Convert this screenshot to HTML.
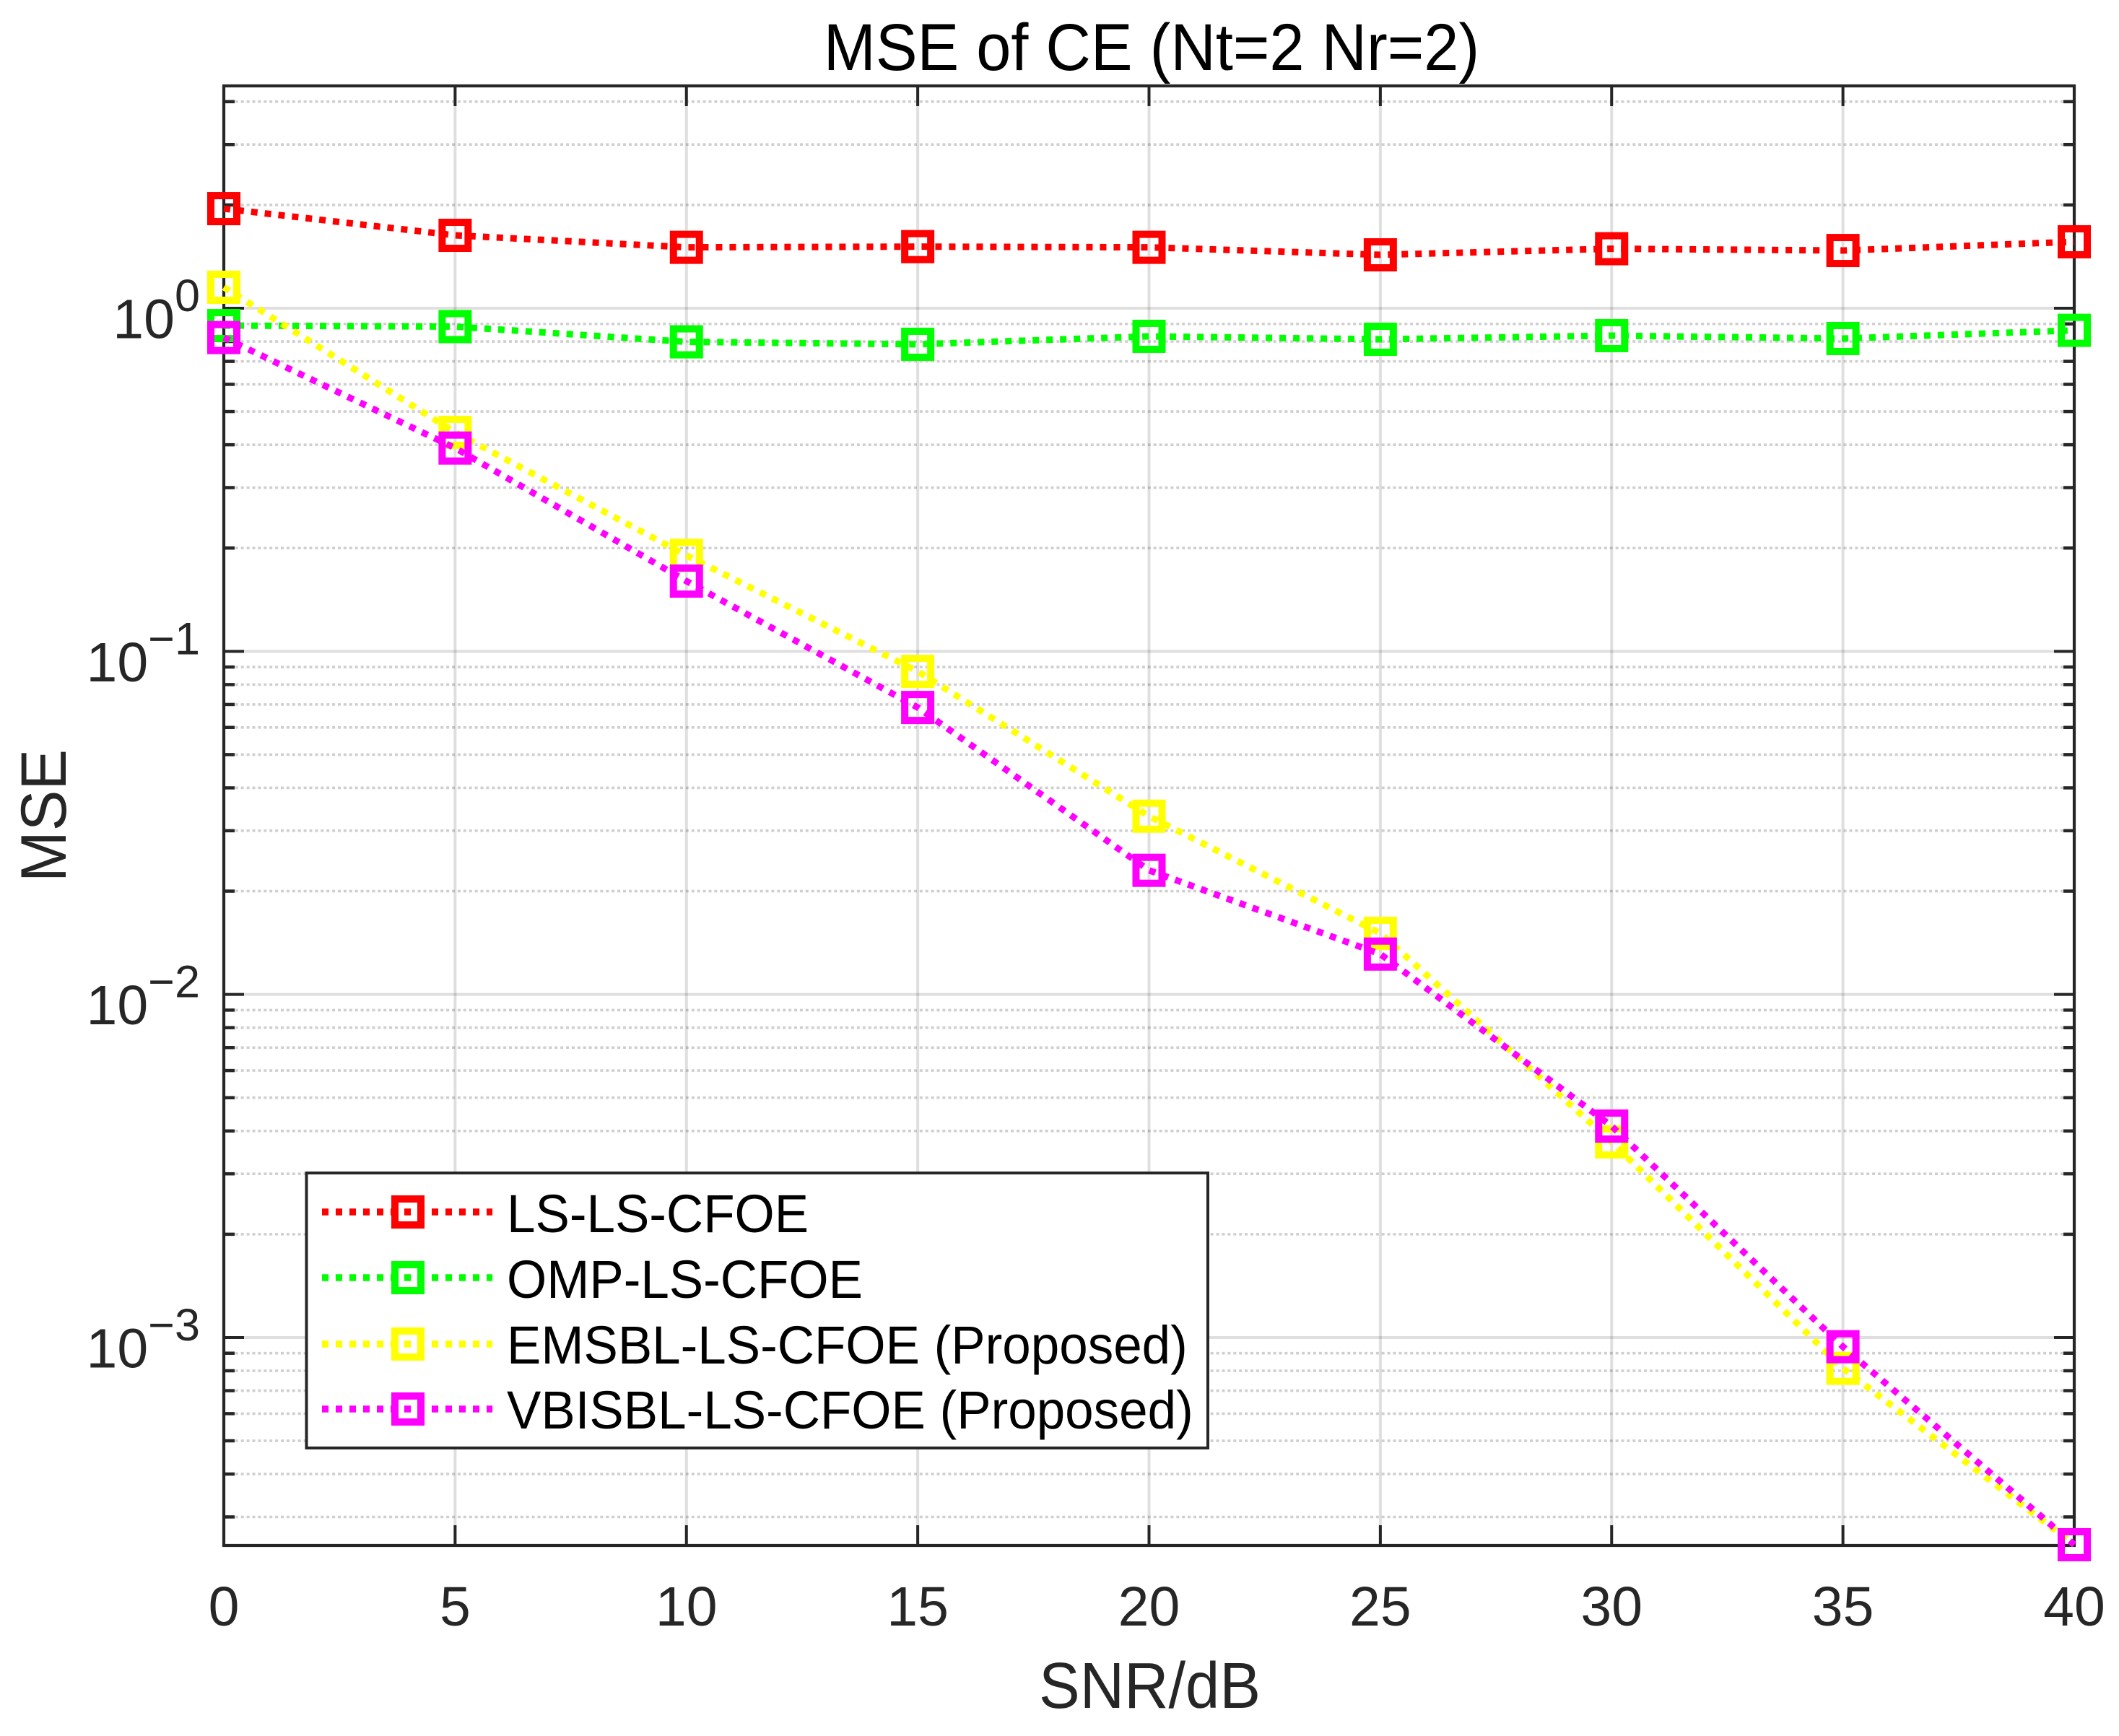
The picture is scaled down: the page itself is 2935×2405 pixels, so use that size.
<!DOCTYPE html>
<html lang="en">
<head>
<meta charset="utf-8">
<title>MSE of CE (Nt=2 Nr=2)</title>
<style>
html,body{margin:0;padding:0;background:#fff;}
svg{display:block;}
text{font-family:"Liberation Sans",Arial,sans-serif;}
</style>
</head>
<body>
<svg id="chart" xmlns="http://www.w3.org/2000/svg" width="2935" height="2405" viewBox="0 0 2935 2405">
  <rect x="0" y="0" width="2935" height="2405" fill="#ffffff"/>
  <rect x="310" y="119" width="2563" height="2022" fill="#ffffff"/>
  <g id="grid"></g>
  <g id="ticks"></g>
  <rect x="310" y="119" width="2563" height="2022" fill="none" stroke="#262626" stroke-width="4.2"/>
  <g id="tick-labels"></g>
  <g id="series"></g>

  <text x="0" y="0" font-size="86.5" text-anchor="middle" fill="#000000" transform="translate(1595 97) scale(1 1.065)">MSE of CE (Nt=2 Nr=2)</text>
  <text x="0" y="0" font-size="85" text-anchor="middle" fill="#262626" transform="translate(1592.5 2366) scale(1 1.06)">SNR/dB</text>
  <text x="0" y="0" font-size="85" text-anchor="middle" fill="#262626" transform="translate(91 1130) rotate(-90) scale(1 1.05)">MSE</text>

  <g>
    <rect x="424.5" y="1625" width="1248.5" height="381" fill="#ffffff" stroke="#262626" stroke-width="4"/>

    <g>
      <line x1="446" y1="1679" x2="682" y2="1679" stroke="#ff0000" stroke-width="9.5" stroke-dasharray="9 10"/>
      <rect x="547" y="1661" width="36" height="36" fill="none" stroke="#ff0000" stroke-width="10"/>
      <text x="0" y="0" font-size="71" fill="#000000" transform="translate(702 1707) scale(1 1.05)">LS-LS-CFOE</text>
    </g>
    <g>
      <line x1="446" y1="1770" x2="682" y2="1770" stroke="#00ff00" stroke-width="9.5" stroke-dasharray="9 10"/>
      <rect x="547" y="1752" width="36" height="36" fill="none" stroke="#00ff00" stroke-width="10"/>
      <text x="0" y="0" font-size="71" fill="#000000" transform="translate(702 1798) scale(1 1.05)">OMP-LS-CFOE</text>
    </g>
    <g>
      <line x1="446" y1="1862" x2="682" y2="1862" stroke="#ffff00" stroke-width="9.5" stroke-dasharray="9 10"/>
      <rect x="547" y="1844" width="36" height="36" fill="none" stroke="#ffff00" stroke-width="10"/>
      <text x="0" y="0" font-size="71" fill="#000000" transform="translate(702 1889) scale(1 1.05)">EMSBL-LS-CFOE (Proposed)</text>
    </g>
    <g>
      <line x1="446" y1="1952" x2="682" y2="1952" stroke="#ff00ff" stroke-width="9.5" stroke-dasharray="9 10"/>
      <rect x="547" y="1934" width="36" height="36" fill="none" stroke="#ff00ff" stroke-width="10"/>
      <text x="0" y="0" font-size="71" fill="#000000" transform="translate(702 1979) scale(1 1.05)">VBISBL-LS-CFOE (Proposed)</text>
    </g>
  </g>
</svg>

<script>
// ---- chart data ----
const snrValues = [0, 5, 10, 15, 20, 25, 30, 35, 40];
const xTickLabels = ['0', '5', '10', '15', '20', '25', '30', '35', '40'];
const yDecadeExponents = [0, -1, -2, -3];
const yDecadeExponentLabels = ['0', '\u22121', '\u22122', '\u22123'];
const yMinorMultipliers = [2, 3, 4, 5, 6, 7, 8, 9];
const lsMse = [1.951, 1.631, 1.505, 1.512, 1.505, 1.431, 1.491, 1.473, 1.562];
const ompMse = [0.890, 0.884, 0.798, 0.785, 0.828, 0.812, 0.832, 0.816, 0.862];
const emsblMse = [1.151, 0.4346, 0.1904, 0.0874, 0.03307, 0.01507, 0.003715, 0.000813, 0.000249];
const vbisblMse = [0.8214, 0.3913, 0.1602, 0.0686, 0.0230, 0.01311, 0.004133, 0.000940, 0.000249];

// ---- axis configuration ----
const NS = 'http://www.w3.org/2000/svg';
const plotLeft = 310, plotRight = 2873, plotTop = 119, plotBottom = 2141;
const xMin = 0, xMax = 40;
const logMin = -3.606, logMax = 0.648;
const inkColor = '#262626';

function xScale(v) {
  return plotLeft + (v - xMin) / (xMax - xMin) * (plotRight - plotLeft);
}
function yScale(v) {
  return plotTop + (logMax - Math.log10(v)) / (logMax - logMin) * (plotBottom - plotTop);
}
function make(tag, attrs, parent) {
  const node = document.createElementNS(NS, tag);
  for (const key in attrs) node.setAttribute(key, attrs[key]);
  parent.appendChild(node);
  return node;
}

const gridGroup = document.getElementById('grid');
const tickGroup = document.getElementById('ticks');
const labelGroup = document.getElementById('tick-labels');
const seriesGroup = document.getElementById('series');

// ---- vertical grid, x ticks, x labels ----
snrValues.forEach(function (snr, i) {
  const x = xScale(snr);
  if (snr > xMin && snr < xMax) {
    const g = make('line', {x1: x, x2: x, y1: plotTop, y2: plotBottom, stroke: inkColor, 'stroke-opacity': 0.15, 'stroke-width': 4}, gridGroup);
    
    
    const tb = make('line', {x1: x, x2: x, y1: plotBottom, y2: plotBottom - 28, stroke: inkColor, 'stroke-width': 4}, tickGroup);
    
    
    const tt = make('line', {x1: x, x2: x, y1: plotTop, y2: plotTop + 28, stroke: inkColor, 'stroke-width': 4}, tickGroup);
    
    
  }
  const label = make('text', {x: x, y: 2252, 'font-size': 77, 'text-anchor': 'middle', fill: inkColor}, labelGroup);
  
  
  label.textContent = xTickLabels[i];
});

// ---- horizontal minor grid + ticks ----
[1, 0, -1, -2, -3, -4].forEach(function (decade) {
  yMinorMultipliers.forEach(function (m) {
    const value = m * Math.pow(10, decade - 1);
    const log = Math.log10(value);
    if (log <= logMin || log >= logMax) return;
    const y = yScale(value);
    const g = make('line', {x1: plotLeft, x2: plotRight, y1: y, y2: y, stroke: inkColor, 'stroke-opacity': 0.22, 'stroke-width': 3.6, 'stroke-dasharray': '4 3.9'}, gridGroup);
    
    
    const tl = make('line', {x1: plotLeft, x2: plotLeft + 15, y1: y, y2: y, stroke: inkColor, 'stroke-width': 4.5}, tickGroup);
    
    
    const tr = make('line', {x1: plotRight, x2: plotRight - 15, y1: y, y2: y, stroke: inkColor, 'stroke-width': 4.5}, tickGroup);
    
    
  });
});

// ---- horizontal major grid, ticks and labels ----
yDecadeExponents.forEach(function (exponent, i) {
  const y = yScale(Math.pow(10, exponent));
  const g = make('line', {x1: plotLeft, x2: plotRight, y1: y, y2: y, stroke: inkColor, 'stroke-opacity': 0.15, 'stroke-width': 4}, gridGroup);
  
  
  const tl = make('line', {x1: plotLeft, x2: plotLeft + 28, y1: y, y2: y, stroke: inkColor, 'stroke-width': 4}, tickGroup);
  
  
  const tr = make('line', {x1: plotRight, x2: plotRight - 28, y1: y, y2: y, stroke: inkColor, 'stroke-width': 4}, tickGroup);
  
  

  const label = make('text', {x: 277, y: y + 41.5, 'font-size': 77, 'text-anchor': 'end', fill: inkColor}, labelGroup);
  
  
  label.appendChild(document.createTextNode('10'));
  const sup = make('tspan', {'font-size': 63, dy: -37.5}, label);
  
  
  sup.textContent = yDecadeExponentLabels[i];
});

// ---- series ----
function drawSeries(values, color, slug) {
  const points = snrValues.map(function (snr, i) {
    return xScale(snr).toFixed(2) + ',' + yScale(values[i]).toFixed(2);
  }).join(' ');
  const group = make('g', {}, seriesGroup);
  
  
  const line = make('polyline', {points: points, fill: 'none', stroke: color, 'stroke-width': 9, 'stroke-dasharray': '9 10'}, group);
  
  
  snrValues.forEach(function (snr, i) {
    const cx = xScale(snr), cy = yScale(values[i]);
    const marker = make('rect', {x: cx - 18, y: cy - 18, width: 36, height: 36, fill: 'none', stroke: color, 'stroke-width': 10}, group);
    
    
  });
}
drawSeries(lsMse, '#ff0000', 'ls-ls-cfoe');
drawSeries(ompMse, '#00ff00', 'omp-ls-cfoe');
drawSeries(emsblMse, '#ffff00', 'emsbl-ls-cfoe');
drawSeries(vbisblMse, '#ff00ff', 'vbisbl-ls-cfoe');
</script>
</body>
</html>
